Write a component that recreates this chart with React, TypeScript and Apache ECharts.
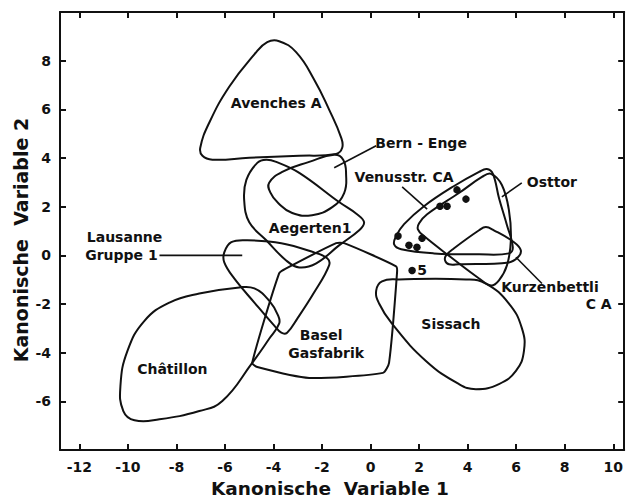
import React, { useEffect, useRef } from "react";
import * as echarts from "echarts";

const FONT = "DejaVu Sans";
const INK = "#111111";

const X_TICKS = [-12, -10, -8, -6, -4, -2, 0, 2, 4, 6, 8, 10];
const Y_TICKS = [-6, -4, -2, 0, 2, 4, 6, 8];

// Outlines of the groups (Kanonische Variable 1, Kanonische Variable 2)
const AVENCHES_A = [
  [-3.77, 8.8], [-3.07, 8.35], [-2.33, 7.23], [-1.71, 5.99], [-1.21, 4.83], [-1.17, 4.42],
  [-1.42, 4.17], [-2.94, 4.09], [-5.0, 4.01], [-6.52, 3.93], [-6.93, 4.09], [-7.02, 4.42],
  [-6.65, 5.45], [-5.82, 6.94], [-4.79, 8.26], [-4.26, 8.76],
];
const BERN_ENGE = [
  [-4.18, 2.98], [-3.64, 3.43], [-2.53, 3.84], [-1.5, 4.13], [-1.13, 3.93], [-1.01, 3.31],
  [-1.09, 2.56], [-1.58, 1.98], [-2.41, 1.65], [-3.23, 1.74], [-3.81, 2.15], [-4.14, 2.6],
];
const AEGERTEN_1 = [
  [-4.67, 3.8], [-5.12, 3.1], [-5.21, 2.27], [-5.0, 1.36], [-4.3, 0.62], [-3.48, -0.21],
  [-2.94, -0.5], [-2.24, -0.33], [-1.3, 0.41], [-0.47, 1.03], [-0.27, 1.36], [-0.56, 1.69],
  [-1.3, 2.19], [-2.94, 3.39], [-3.89, 3.84], [-4.3, 3.93],
];
const LAUSANNE_1 = [
  [-6.03, 0.12], [-5.74, 0.54], [-5.08, 0.62], [-3.68, 0.5], [-2.33, 0.12], [-1.79, -0.12],
  [-1.71, -0.41], [-2.33, -1.53], [-3.02, -2.6], [-3.44, -3.18], [-3.68, -3.18], [-3.97, -2.89],
  [-4.79, -1.94], [-5.62, -0.95], [-6.03, -0.29],
];
const CHATILLON = [
  [-8.29, -1.94], [-7.06, -1.57], [-5.41, -1.32], [-4.79, -1.36], [-4.18, -1.86], [-3.81, -2.48],
  [-3.77, -2.81], [-4.18, -3.43], [-4.88, -4.42], [-6.11, -5.99], [-7.06, -6.4], [-8.7, -6.74],
  [-9.73, -6.78], [-10.19, -6.4], [-10.31, -5.37], [-10.02, -3.93], [-9.32, -2.69],
];
const BASEL_GASFABRIK = [
  [-4.88, -4.42], [-3.77, -0.74], [-3.48, -0.54], [-1.42, 0.5], [-1.09, 0.5], [1.05, -0.45],
  [1.09, -0.7], [0.76, -4.42], [0.51, -4.83], [-2.53, -5.04], [-4.67, -4.59],
];
const SISSACH = [
  [0.47, -1.07], [1.17, -0.99], [3.93, -0.99], [4.75, -1.16], [5.7, -1.98], [6.23, -2.98],
  [6.32, -3.93], [5.99, -4.75], [5.29, -5.29], [4.34, -5.5], [3.64, -5.29], [2.28, -4.34],
  [0.88, -2.81], [0.35, -1.98], [0.23, -1.45],
];
const VENUSSTR_CA = [
  [1.05, 0.79], [1.38, 1.28], [2.2, 2.02], [3.44, 2.85], [4.47, 3.43], [4.79, 3.55],
  [5.04, 3.35], [5.29, 2.36], [5.62, 1.24], [5.86, 0.33], [5.7, 0.08], [4.47, 0.04],
  [2.61, 0.08], [1.26, 0.25], [0.97, 0.45],
];
const OSTTOR = [
  [2.0, 1.32], [2.33, 1.69], [3.64, 2.56], [4.59, 3.22], [4.96, 3.35], [5.41, 2.89],
  [5.7, 1.86], [5.78, 0.62], [5.62, -0.41], [5.29, -1.03], [4.96, -1.24], [4.47, -0.95],
  [3.31, -0.08], [2.2, 0.79], [1.95, 1.07],
];
const KURZENBETTLI_CA = [
  [3.11, 0.0], [3.44, 0.29], [4.47, 1.03], [4.75, 1.16], [5.08, 1.03], [5.91, 0.54],
  [6.19, 0.21], [6.07, -0.08], [5.7, -0.29], [3.64, -0.37], [3.23, -0.37], [3.07, -0.21],
];

// Individual specimens
const POINTS = [
  [1.13, 0.79], [1.58, 0.41], [1.91, 0.33], [2.12, 0.7], [2.86, 2.02], [3.15, 2.02],
  [3.56, 2.69], [3.93, 2.31], [1.71, -0.62],
];

// Label texts and their anchor positions
const LABEL_TEXTS = [
  "Avenches A", "Bern - Enge", "Venusstr. CA", "Osttor", "Aegerten1", "Lausanne", "Gruppe 1",
  "Châtillon", "Basel", "Gasfabrik", "Sissach", "Kurzenbettli", "C A", "5",
];
const LABEL_POS = [
  [-3.89, 6.28], [2.08, 4.63], [1.38, 3.22], [7.47, 3.02], [-2.49, 1.12], [-10.14, 0.74],
  [-10.27, 0.0], [-8.17, -4.67], [-2.04, -3.26], [-1.83, -4.01], [3.31, -2.81], [7.39, -1.32],
  [9.4, -2.02], [2.12, -0.62],
];

// Leader lines from labels to outlines
const LEADERS = [
  [[0.23, 4.5], [-1.5, 3.6]],
  [[1.3, 2.81], [2.33, 1.9]],
  [[6.23, 2.98], [5.41, 2.4]],
  [[-8.7, 0.0], [-5.29, 0.0]],
  [[5.99, -0.08], [7.06, -1.16]],
];

const SHAPES = [
  { name: "Avenches A", points: AVENCHES_A, smooth: 0.45 },
  { name: "Bern-Enge", points: BERN_ENGE, smooth: 0.45 },
  { name: "Aegerten 1", points: AEGERTEN_1, smooth: 0.4 },
  { name: "Lausanne Gruppe 1", points: LAUSANNE_1, smooth: 0.4 },
  { name: "Châtillon", points: CHATILLON, smooth: 0.45 },
  { name: "Basel Gasfabrik", points: BASEL_GASFABRIK, smooth: 0.2 },
  { name: "Sissach", points: SISSACH, smooth: 0.45 },
  { name: "Venusstr. CA", points: VENUSSTR_CA, smooth: 0.4 },
  { name: "Osttor", points: OSTTOR, smooth: 0.4 },
  { name: "Kurzenbettli CA", points: KURZENBETTLI_CA, smooth: 0.4 },
];

const X_MIN = -12.8;
const X_MAX = 10.45;
const Y_MIN = -8;
const Y_MAX = 10;

function makeXAxis(position: "bottom" | "top", labels: boolean) {
  return {
    type: "value",
    position,
    min: X_MIN,
    max: X_MAX,
    axisLine: { show: true, onZero: false, lineStyle: { color: INK, width: 2 } },
    axisTick: { show: true, inside: true, length: 6, customValues: X_TICKS, lineStyle: { color: INK, width: 2 } },
    axisLabel: {
      show: labels,
      customValues: X_TICKS,
      margin: 10,
      color: INK,
      fontFamily: FONT,
      fontSize: 14,
      fontWeight: "bold",
    },
    splitLine: { show: false },
  };
}

function makeYAxis(position: "left" | "right", labels: boolean) {
  return {
    type: "value",
    position,
    min: Y_MIN,
    max: Y_MAX,
    axisLine: { show: true, onZero: false, lineStyle: { color: INK, width: 2 } },
    axisTick: { show: true, inside: true, length: 6, customValues: Y_TICKS, lineStyle: { color: INK, width: 2 } },
    axisLabel: {
      show: labels,
      customValues: Y_TICKS,
      margin: 9,
      color: INK,
      fontFamily: FONT,
      fontSize: 14,
      fontWeight: "bold",
    },
    splitLine: { show: false },
  };
}

export default function App() {
  const ref = useRef<HTMLDivElement>(null);

  useEffect(() => {
    if (!ref.current) return;
    const chart = echarts.init(ref.current, null, { renderer: "svg" });

    const option = {
      animation: false,
      backgroundColor: "#ffffff",
      grid: { left: 60, right: 1, top: 12, bottom: 51, containLabel: false },
      xAxis: [makeXAxis("bottom", true), makeXAxis("top", false)],
      yAxis: [makeYAxis("left", true), makeYAxis("right", false)],
      graphic: [
        {
          type: "text",
          x: 330,
          y: 488,
          style: {
            text: "Kanonische  Variable 1",
            fontFamily: FONT,
            fontSize: 18.5,
            fontWeight: "bold",
            fill: INK,
            align: "center",
            verticalAlign: "middle",
          },
        },
        {
          type: "text",
          x: 21,
          y: 240,
          rotation: Math.PI / 2,
          style: {
            text: "Kanonische  Variable 2",
            fontFamily: FONT,
            fontSize: 19,
            fontWeight: "bold",
            fill: INK,
            align: "center",
            verticalAlign: "middle",
          },
        },
      ],
      series: [
        {
          type: "custom",
          name: "Gruppen",
          silent: true,
          xAxisIndex: 0,
          yAxisIndex: 0,
          data: SHAPES.map((s) => s.points[0]),
          renderItem: (params: any, api: any) => {
            const s = SHAPES[params.dataIndex];
            const pts = s.points.map((p) => api.coord(p));
            return {
              type: "polygon",
              shape: { points: pts, smooth: s.smooth },
              style: { fill: "none", stroke: INK, lineWidth: 2 },
            };
          },
        },
        {
          type: "custom",
          name: "Leader",
          silent: true,
          data: LEADERS.map((l) => l[0]),
          renderItem: (params: any, api: any) => {
            const l = LEADERS[params.dataIndex];
            return {
              type: "polyline",
              shape: { points: l.map((p) => api.coord(p)) },
              style: { fill: "none", stroke: INK, lineWidth: 1.6 },
            };
          },
        },
        {
          type: "scatter",
          name: "Individuen",
          silent: true,
          symbol: "circle",
          symbolSize: 7.5,
          itemStyle: { color: INK, opacity: 1 },
          data: POINTS,
        },
        {
          type: "scatter",
          name: "Labels",
          silent: true,
          symbolSize: 0,
          itemStyle: { color: "transparent", opacity: 1 },
          label: {
            show: true,
            position: "inside",
            formatter: "{b}",
            color: INK,
            fontFamily: FONT,
            fontSize: 14,
            fontWeight: "bold",
          },
          data: LABEL_TEXTS.map((t, i) => ({ name: t, value: LABEL_POS[i] })),
        },
      ],
    };

    chart.setOption(option as any);
    return () => chart.dispose();
  }, []);

  return (
    <div
      ref={ref}
      style={{ position: "fixed", left: 0, top: 0, width: 626, height: 501, background: "#fff" }}
    />
  );
}
